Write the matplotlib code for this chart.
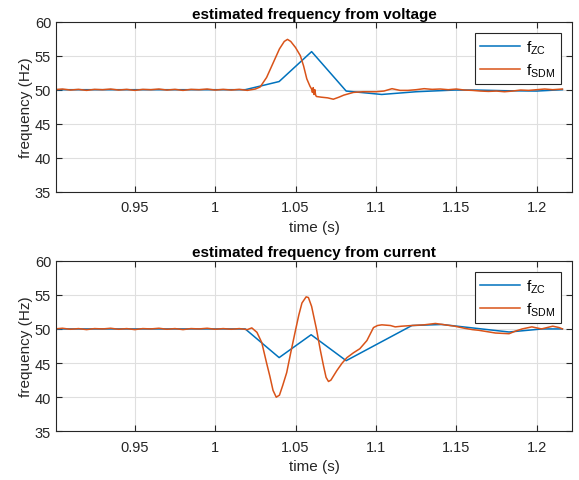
import matplotlib.pyplot as plt

plt.rcParams['font.family'] = ['Liberation Sans', 'DejaVu Sans']
plt.rcParams['mathtext.fontset'] = 'custom'
plt.rcParams['mathtext.rm'] = 'Liberation Sans'
plt.rcParams['mathtext.it'] = 'Liberation Sans'

flat_t = [0.900, 0.905, 0.910, 0.915, 0.920, 0.925, 0.930, 0.935, 0.940, 0.945,
          0.950, 0.955, 0.960, 0.965, 0.970, 0.975, 0.980, 0.985, 0.990, 0.995,
          1.000, 1.005, 1.010, 1.015, 1.020]
flat_f = [50.0, 50.1, 49.95, 50.05, 49.9, 50.05, 50.0, 50.1, 49.95, 50.05,
          49.9, 50.05, 50.0, 50.1, 49.95, 50.05, 49.9, 50.05, 50.0, 50.1,
          49.95, 50.05, 49.95, 50.05, 49.9]

# voltage
v_zc_t = [0.900, 0.920, 0.940, 0.960, 0.980, 1.000, 1.0187, 1.0398, 1.0600,
          1.0815, 1.1036, 1.125, 1.149, 1.162, 1.180, 1.200, 1.216]
v_zc_f = [50.0, 50.0, 50.0, 50.0, 50.0, 50.0, 50.0, 51.2, 55.6,
          49.8, 49.3, 49.7, 49.95, 49.95, 49.85, 49.8, 50.0]

v_sdm_t = flat_t + [1.025, 1.028, 1.032, 1.036, 1.040, 1.043, 1.045, 1.047, 1.050,
                    1.053, 1.055, 1.057, 1.059, 1.060, 1.0605, 1.061, 1.0615, 1.062,
                    1.0625, 1.063, 1.066, 1.070, 1.0735, 1.077, 1.080, 1.086, 1.092,
                    1.100, 1.105, 1.110, 1.115, 1.120, 1.125, 1.130, 1.135, 1.140,
                    1.145, 1.150, 1.155, 1.160, 1.165, 1.170, 1.175, 1.180, 1.185,
                    1.190, 1.195, 1.200, 1.205, 1.210, 1.216]
v_sdm_f = flat_f + [50.1, 50.4, 51.8, 53.9, 56.0, 57.1, 57.4, 57.1, 56.2,
                    55.0, 53.5, 51.6, 50.5, 50.1, 49.6, 50.3, 49.3, 50.0,
                    49.2, 49.0, 48.9, 48.8, 48.6, 48.9, 49.2, 49.6, 49.7,
                    49.7, 49.8, 50.15, 49.9, 49.9, 50.0, 50.15, 50.05, 50.1,
                    50.0, 50.1, 49.95, 49.9, 49.8, 49.75, 49.8, 49.7, 49.8,
                    49.95, 49.9, 50.0, 50.1, 50.0, 50.1]

# current
i_zc_t = [0.900, 0.920, 0.940, 0.960, 0.980, 1.000, 1.0187, 1.0398, 1.0597,
          1.0815, 1.1224, 1.141, 1.1828, 1.2036, 1.216]
i_zc_f = [50.0, 50.0, 50.0, 50.0, 50.0, 50.0, 50.0, 45.8, 49.15,
          45.35, 50.5, 50.65, 49.55, 50.0, 50.0]

i_sdm_t = flat_t + [1.0228, 1.026, 1.029, 1.032, 1.034, 1.036, 1.038, 1.040, 1.042,
                    1.0445, 1.047, 1.0497, 1.052, 1.054, 1.0566, 1.058, 1.060, 1.063,
                    1.0655, 1.0674, 1.069, 1.0705, 1.072, 1.0757, 1.079, 1.082, 1.086,
                    1.090, 1.0944, 1.0985, 1.101, 1.1037, 1.109, 1.112, 1.116, 1.1224,
                    1.130, 1.137, 1.143, 1.149, 1.155, 1.160, 1.164, 1.1744, 1.1828,
                    1.187, 1.191, 1.197, 1.203, 1.210, 1.214, 1.216]
i_sdm_f = flat_f + [50.15, 49.5, 48.0, 45.0, 43.1, 41.0, 40.0, 40.3, 41.7,
                    43.6, 46.5, 49.5, 52.0, 53.8, 54.7, 54.6, 53.3, 50.0,
                    46.8, 44.6, 42.9, 42.3, 42.5, 43.9, 45.0, 45.8, 46.5,
                    47.1, 48.3, 50.2, 50.5, 50.6, 50.5, 50.3, 50.4, 50.5,
                    50.6, 50.8, 50.6, 50.4, 50.1, 49.9, 49.8, 49.4, 49.3,
                    49.7, 50.0, 50.3, 50.0, 50.4, 50.2, 50.0]

xticks = [0.95, 1.0, 1.05, 1.1, 1.15, 1.2]
xticklabels = ['0.95', '1', '1.05', '1.1', '1.15', '1.2']
yticks = [35, 40, 45, 50, 55, 60]

blue = '#0072BD'
orange = '#D95319'

fig = plt.figure(figsize=(5.79, 4.81), dpi=100)
ax1 = fig.add_axes([0.0967, 0.5994, 0.8913, 0.3534])
ax2 = fig.add_axes([0.0967, 0.1012, 0.8913, 0.3548])

panels = [
    (ax1, v_zc_t, v_zc_f, v_sdm_t, v_sdm_f, 'estimated frequency from voltage'),
    (ax2, i_zc_t, i_zc_f, i_sdm_t, i_sdm_f, 'estimated frequency from current'),
]

for ax, zt, zf, st, sf, title in panels:
    ax.plot(zt, zf, color=blue, lw=1.1, label=r'f$_{\mathrm{ZC}}$')
    ax.plot(st, sf, color=orange, lw=1.1, label=r'f$_{\mathrm{SDM}}$')
    ax.set_xlim(0.901, 1.222)
    ax.set_ylim(35, 60)
    ax.set_xticks(xticks)
    ax.set_xticklabels(xticklabels)
    ax.set_yticks(yticks)
    ax.grid(True, color='#dfdfdf', lw=0.8)
    ax.set_axisbelow(True)
    ax.tick_params(direction='in', top=True, right=True, labelsize=10.5,
                   colors='#262626', length=4, width=0.8)
    ax.tick_params(axis='x', pad=6)
    for s in ax.spines.values():
        s.set_color('#262626')
        s.set_linewidth(0.8)
    ax.set_title(title, fontsize=11, fontweight='bold', pad=3)
    ax.set_xlabel('time (s)', fontsize=11, color='#262626', labelpad=4)
    ax.set_ylabel('frequency (Hz)', fontsize=11, color='#262626', labelpad=1)
    leg = ax.legend(loc='upper right', fontsize=11, handlelength=2.6,
                    fancybox=False, framealpha=1, edgecolor='#262626',
                    borderaxespad=0.75, borderpad=0.35, labelspacing=0.35,
                    handletextpad=0.4)
    leg.get_frame().set_linewidth(0.8)

plt.savefig('out.png', dpi=100)
